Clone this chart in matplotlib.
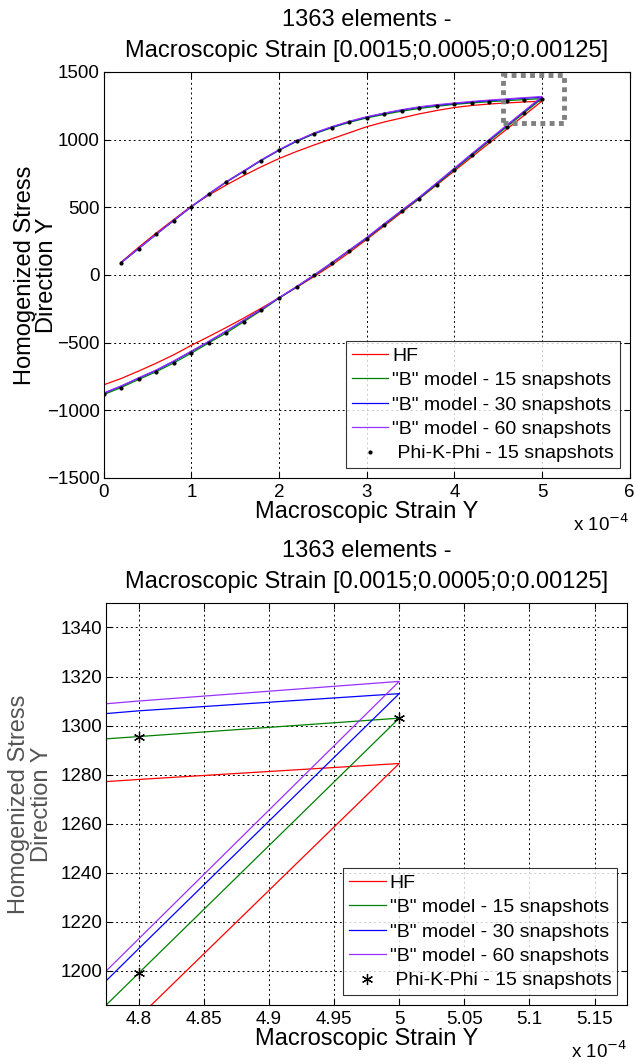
# Homogenized stress vs macroscopic strain, full loop and zoom near the tip

import numpy as np
import matplotlib
matplotlib.use('Agg')
import matplotlib.pyplot as plt
from matplotlib.patches import Rectangle
from matplotlib.ticker import FuncFormatter

plt.rcParams['font.family'] = ['Liberation Sans', 'DejaVu Sans']

# Strain path (units of 1e-4): loading 0.2 -> 5.0, then unloading 4.8 -> 0.0
strain_e4 = [0.2, 0.4, 0.6, 0.8, 1.0, 1.2, 1.4, 1.6, 1.8, 2.0, 2.2, 2.4, 2.6,
             2.8, 3.0, 3.2, 3.4, 3.6, 3.8, 4.0, 4.2, 4.4, 4.6, 4.8, 5.0,
             4.8, 4.6, 4.4, 4.2, 4.0, 3.8, 3.6, 3.4, 3.2, 3.0, 2.8, 2.6, 2.4,
             2.2, 2.0, 1.8, 1.6, 1.4, 1.2, 1.0, 0.8, 0.6, 0.4, 0.2, 0.0]

stress_hf = [95, 205, 310, 410, 508, 590, 665, 735, 800, 860, 912, 960, 1005,
             1050, 1095, 1130, 1160, 1190, 1215, 1237, 1252, 1263, 1271, 1278, 1284.5,
             1181, 1078, 975, 872, 768, 665, 563, 462, 362, 262, 165, 72, -12,
             -92, -170, -245, -318, -388, -455, -520, -590, -652, -710, -765, -812]

stress_b15 = [90, 195, 300, 402, 503, 597, 686, 765, 846, 920, 986, 1042, 1087,
              1127, 1160, 1186, 1210, 1230, 1246, 1260, 1271, 1280, 1288, 1295.5, 1303,
              1199, 1095, 990, 885, 778, 670, 565, 470, 370, 270, 178, 85, -5,
              -90, -172, -262, -345, -428, -502, -578, -650, -715, -772, -832, -884]

stress_b30 = [91, 196, 301, 403, 504, 599, 688, 768, 849, 923, 990, 1046, 1092,
              1132, 1166, 1193, 1218, 1239, 1254, 1266, 1278, 1288, 1297, 1306, 1313,
              1209, 1104, 998, 892, 785, 677, 571, 475, 375, 274, 181, 88, -2,
              -88, -170, -255, -335, -415, -492, -566, -638, -705, -762, -822, -875]

stress_b60 = [92, 197, 302, 404, 505, 600, 690, 770, 851, 925, 992, 1049, 1095,
              1135, 1169, 1196, 1221, 1242, 1258, 1270, 1282, 1292, 1301, 1310, 1318,
              1213, 1108, 1002, 896, 789, 681, 575, 478, 378, 277, 183, 90, 0,
              -86, -168, -253, -333, -413, -490, -563, -635, -702, -760, -820, -872]

stress_pkp = [88, 193, 300, 400, 502, 595, 685, 762, 845, 920, 987, 1042, 1087,
              1127, 1162, 1187, 1212, 1232, 1247, 1262, 1272, 1281, 1288, 1295.5, 1303,
              1199, 1093, 987, 887, 775, 667, 562, 475, 367, 267, 175, 91, 0,
              -89, -172, -261, -345, -426, -500, -576, -648, -714, -771, -832, -882]

labels = ['HF', '"B" model - 15 snapshots', '"B" model - 30 snapshots',
          '"B" model - 60 snapshots', ' Phi-K-Phi - 15 snapshots']
colors = ['#ff0000', '#008000', '#0000ff', '#9b30ff']

x = np.array(strain_e4) * 1e-4
series = [stress_hf, stress_b15, stress_b30, stress_b60]

fs_tick = 13.5
fs_lab = 17
fs_leg = 14
fig = plt.figure(figsize=(6.36, 10.64), dpi=100)
ax1 = fig.add_axes([0.163, 0.5508, 0.827, 0.3816])
ax2 = fig.add_axes([0.167, 0.0555, 0.819, 0.3778])

title = '1363 elements -\nMacroscopic Strain [0.0015;0.0005;0;0.00125]'
asterisk = (6, 2, 0)


def style_axes(ax, xticks, yticks, xlim, ylim):
    ax.set_xlim(xlim)
    ax.set_ylim(ylim)
    ax.set_xticks(np.array(xticks) * 1e-4)
    ax.set_yticks(yticks)
    ax.xaxis.set_major_formatter(FuncFormatter(lambda v, p: '%g' % round(v / 1e-4, 4)))
    ax.tick_params(direction='in', length=4, labelsize=fs_tick, top=True, right=True)
    ax.tick_params(axis='x', pad=4)
    ax.tick_params(axis='y', pad=3)
    ax.grid(True, color='black', linestyle=(0, (2, 3)), linewidth=0.7)
    ax.set_axisbelow(True)
    for s in ax.spines.values():
        s.set_linewidth(0.8)
    ax.set_title(title, fontsize=fs_lab, pad=11, linespacing=1.5)
    ax.set_xlabel('Macroscopic Strain Y', fontsize=fs_lab, labelpad=0)
    ax.text(1.0, -0.088, r'x 10$^{-4}$', transform=ax.transAxes, ha='right',
            va='top', fontsize=fs_tick)


def add_legend(ax):
    leg = ax.legend(loc='lower right', fontsize=fs_leg, frameon=True, fancybox=False,
                    edgecolor='black', borderpad=0.3, labelspacing=0.35, handlelength=1.9,
                    handletextpad=0.2, borderaxespad=0.5)
    leg.get_frame().set_linewidth(0.8)


# Top: full loop
for ys, c, lab in zip(series, colors, labels):
    ax1.plot(x, ys, color=c, lw=0.9, label=lab)
ax1.plot(x, stress_pkp, linestyle='none', marker='.', ms=4, color='black', label=labels[4])
style_axes(ax1, [0, 1, 2, 3, 4, 5, 6], [-1500, -1000, -500, 0, 500, 1000, 1500],
           (0, 6e-4), (-1500, 1500))
ax1.set_ylabel('Homogenized Stress\nDirection Y', fontsize=fs_lab, linespacing=1.05)
ax1.yaxis.set_label_coords(-0.086, 0.5)
ax1.add_patch(Rectangle((4.55e-4, 1120), 0.7e-4, 360, fill=False, edgecolor='#808080',
                        lw=3.5, linestyle=(0, (1, 0.9)), zorder=5))
add_legend(ax1)

# Bottom: zoom near the tip of the loop
for ys, c, lab in zip(series, colors, labels):
    ax2.plot(x, ys, color=c, lw=0.9, label=lab)
ax2.plot(x, stress_pkp, linestyle='none', marker=asterisk, ms=8, mew=0.9, color='black',
         label=labels[4])
style_axes(ax2, [4.8, 4.85, 4.9, 4.95, 5.0, 5.05, 5.1, 5.15],
           [1200, 1220, 1240, 1260, 1280, 1300, 1320, 1340],
           (4.775e-4, 5.175e-4), (1186, 1350))
ax2.set_ylabel('Homogenized Stress\nDirection Y', fontsize=fs_lab, linespacing=1.05,
               color='#555555')
ax2.yaxis.set_label_coords(-0.102, 0.5)
add_legend(ax2)

fig.savefig('out.png', dpi=100)
plt.close(fig)
